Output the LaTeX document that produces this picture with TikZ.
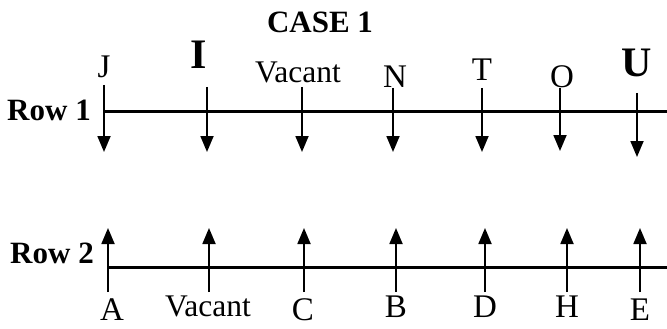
\documentclass[tikz,border=0pt]{standalone}
\usepackage{fontspec}
\setmainfont{Liberation Serif}
\usetikzlibrary{arrows.meta}
\begin{document}
\begin{tikzpicture}[x=1pt,y=-1pt,
  lbl/.style={inner sep=0pt, font=\fontsize{31.5}{36}\selectfont},
  let/.style={inner sep=0pt, font=\fontsize{33}{38}\selectfont},
  big/.style={inner sep=0pt, font=\fontsize{42}{48}\selectfont\bfseries},
  rowlbl/.style={inner sep=0pt, font=\fontsize{31}{36}\selectfont\bfseries},
  axis/.style={line width=3pt},
  arr/.style={line width=1.8pt, -{Triangle[length=16pt,width=13pt]}}]
\useasboundingbox (0,0) rectangle (667,329);

\node[rowlbl] (title) at (320,22) {CASE 1};
\node[rowlbl] (row1) at (49,110) {Row 1};
\node[rowlbl] (row2) at (52,253) {Row 2};

% Row 1 axis
\coordinate (r1s) at (104,111);
\coordinate (r1e) at (667,111);
\draw[axis] (r1s) -- (r1e);

% Row 2 axis
\coordinate (r2s) at (107,267);
\coordinate (r2e) at (667,267);
\draw[axis] (r2s) -- (r2e);

% Row 1 labels and arrows
\foreach \n/\x/\yt/\yb/\t/\lx/\ly/\s in {
  a1/104/85/152/J/104/67/let,
  a2/207/87/152/I/199/55/big,
  a3/302/87/152/Vacant/298/72/lbl,
  a4/393/88/152/N/395/77/let,
  a5/482/88/152/T/482/70/let,
  a6/560/88/151/O/562/77/let,
  a7/637/93/157/U/637/63/big}{
  \node[\s] (l\n) at (\lx,\ly) {\t};
  \coordinate (\n t) at (\x,\yt);
  \coordinate (\n b) at (\x,\yb);
  \draw[arr] (\n t) -- (\n b);
}

% Row 2 labels and arrows
\foreach \n/\x/\t/\lx/\ly/\s in {
  b1/108/A/112/310/let,
  b2/209/Vacant/208/306/lbl,
  b3/304/C/303/310/let,
  b4/396/B/396/307/let,
  b5/485/D/485/307/let,
  b6/567/H/567/307/let,
  b7/640/E/640/310/let}{
  \node[\s] (l\n) at (\lx,\ly) {\t};
  \coordinate (\n b) at (\x,292);
  \coordinate (\n t) at (\x,228);
  \draw[arr] (\n b) -- (\n t);
}
\end{tikzpicture}
\end{document}
